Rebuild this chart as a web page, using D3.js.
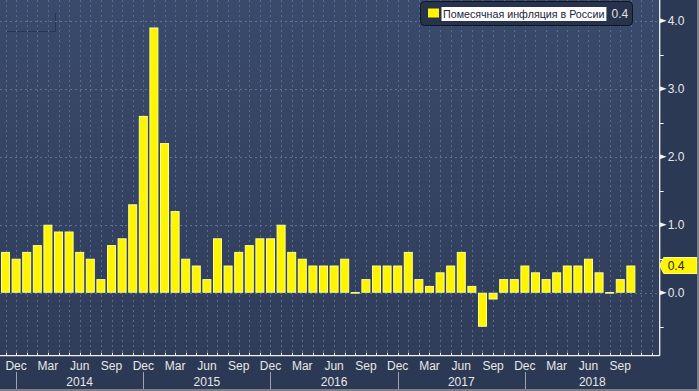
<!DOCTYPE html>
<html>
<head>
<meta charset="utf-8">
<script src="https://cdn.jsdelivr.net/npm/d3@7"></script>
<style>
  html, body { margin: 0; padding: 0; background: #2b3954; }
  svg { display: block; font-family: "Liberation Sans", Arial, sans-serif; }
</style>
</head>
<body>
<svg id="chart"></svg>
<script>
// Monthly CPI, Russia, % m/m — Nov 2013 .. Oct 2018
const startMonth = new Date(Date.UTC(2013, 10, 1));
const values = [
  0.6, 0.5,                                                  // 2013 Nov-Dec
  0.6, 0.7, 1.0, 0.9, 0.9, 0.6, 0.5, 0.2, 0.7, 0.8, 1.3, 2.6, // 2014
  3.9, 2.2, 1.2, 0.5, 0.4, 0.2, 0.8, 0.4, 0.6, 0.7, 0.8, 0.8, // 2015
  1.0, 0.6, 0.5, 0.4, 0.4, 0.4, 0.5, 0.01, 0.2, 0.4, 0.4, 0.4, // 2016
  0.6, 0.2, 0.1, 0.3, 0.4, 0.6, 0.1, -0.5, -0.1, 0.2, 0.2, 0.4, // 2017
  0.3, 0.2, 0.3, 0.4, 0.4, 0.5, 0.3, 0.01, 0.2, 0.4          // 2018 Jan-Oct
];
const months = values.map((v, i) => d3.utcMonth.offset(startMonth, i));
const monthTickLabels = ["Dec", "Mar", "Jun", "Sep"];
const years = [2014, 2015, 2016, 2017, 2018];
const yMajor = [0, 1, 2, 3, 4];
const yMinor = [-0.5, 0.5, 1.5, 2.5, 3.5];
const seriesName = "Помесячная инфляция в России";
const lastValue = values[values.length - 1];

const W = 699, H = 391;
const plotRight = 659.7, plotBottom = 355.7;

const svg = d3.select("#chart").attr("width", W).attr("height", H);

// background gradient for plot area
const defs = svg.append("defs");
const grad = defs.append("linearGradient").attr("id", "bg").attr("x1", 0).attr("y1", 0).attr("x2", 0).attr("y2", 1);
grad.append("stop").attr("offset", "0%").attr("stop-color", "#3a4a6a");
grad.append("stop").attr("offset", "100%").attr("stop-color", "#2f3d5a");

svg.append("rect").attr("width", W).attr("height", H).attr("fill", "#2b3954");
svg.append("rect").attr("width", plotRight).attr("height", plotBottom).attr("fill", "url(#bg)");

// scales: month index -> px, value -> px
const x = d3.scaleLinear().domain([-0.52, 61.72]).range([0, plotRight]);
const y = d3.scaleLinear().domain([-0.926, 4.304]).range([plotBottom, 0]);
const barW = 9;

// faint watermark box top-left
svg.append("path")
  .attr("d", "M6,31.5H55.5V13")
  .attr("fill", "none").attr("stroke", "#1f2a40").attr("stroke-opacity", 0.6);

// vertical grid (each month)
svg.append("g").selectAll("line")
  .data(d3.range(0, 62))
  .join("line")
  .attr("x1", d => Math.round(x(d)) + 0.5).attr("x2", d => Math.round(x(d)) + 0.5)
  .attr("y1", 0).attr("y2", plotBottom)
  .attr("stroke", "#576c90").attr("stroke-dasharray", "2,3").attr("stroke-width", 1);

// horizontal grid
svg.append("g").selectAll("line")
  .data(yMajor)
  .join("line")
  .attr("x1", 0).attr("x2", plotRight)
  .attr("y1", d => Math.round(y(d)) + 0.5).attr("y2", d => Math.round(y(d)) + 0.5)
  .attr("stroke", "#5c7196").attr("stroke-dasharray", "2,3");

// bars
svg.append("g").selectAll("rect")
  .data(values)
  .join("rect")
  .attr("x", (d, i) => x(i) - barW / 2 + 0.5)
  .attr("width", barW - 1)
  .attr("y", d => Math.min(y(d), y(0)) + 0.5)
  .attr("height", d => Math.max(Math.abs(y(d) - y(0)) - 1, 0.6))
  .attr("fill", "#fff500")
  .attr("stroke", "#ffff8c")
  .attr("stroke-width", 1);

// right axis
const axisColor = "#f2f2f2";
svg.append("line")
  .attr("x1", plotRight).attr("x2", plotRight).attr("y1", 0).attr("y2", plotBottom)
  .attr("stroke", axisColor).attr("stroke-width", 1.3);

const yTicks = svg.append("g").selectAll("g").data(yMajor).join("g")
  .attr("transform", d => `translate(${plotRight},${y(d)})`);
yTicks.append("path").attr("d", "M0,-2.5L7,0L0,2.5Z").attr("fill", axisColor);
yTicks.append("text")
  .attr("x", 8).attr("dy", "0.36em")
  .attr("fill", "#e8e8e8").attr("font-size", 12)
  .text(d => d3.format(".1f")(d));

svg.append("g").selectAll("line").data(yMinor).join("line")
  .attr("x1", plotRight).attr("x2", plotRight + 4)
  .attr("y1", d => Math.round(y(d)) + 0.5).attr("y2", d => Math.round(y(d)) + 0.5)
  .attr("stroke", axisColor);

// last value tag
const tagY = y(lastValue);
svg.append("path")
  .attr("d", `M${plotRight},${tagY}L${plotRight + 4},${tagY - 8}H697V${tagY + 8}H${plotRight + 4}Z`)
  .attr("fill", "#fff500").attr("stroke", "#ffff8c");
svg.append("text")
  .attr("x", plotRight + 8).attr("y", tagY).attr("dy", "0.36em")
  .attr("font-size", 12).attr("fill", "#222")
  .text(d3.format(".1f")(lastValue));

// bottom axis
svg.append("line")
  .attr("x1", 0).attr("x2", plotRight).attr("y1", plotBottom).attr("y2", plotBottom)
  .attr("stroke", axisColor).attr("stroke-width", 1.3);
svg.append("g").selectAll("line").data(d3.range(0, 62)).join("line")
  .attr("x1", d => Math.round(x(d)) + 0.5).attr("x2", d => Math.round(x(d)) + 0.5)
  .attr("y1", plotBottom - 3).attr("y2", plotBottom)
  .attr("stroke", axisColor);

const fmtMonth = d3.utcFormat("%b");
const labelled = months.map((m, i) => ({ m, i })).filter(d => monthTickLabels.includes(fmtMonth(d.m)));
svg.append("g").selectAll("text").data(labelled).join("text")
  .attr("x", d => x(d.i)).attr("y", 366).attr("dy", "0.36em")
  .attr("text-anchor", "middle").attr("font-size", 12).attr("fill", "#e8e8e8")
  .text(d => fmtMonth(d.m));

// year separators sit on each December
const decIdx = months.map((m, i) => i).filter(i => months[i].getUTCMonth() === 11);
svg.append("g").selectAll("line").data(decIdx).join("line")
  .attr("x1", d => Math.round(x(d)) + 0.5).attr("x2", d => Math.round(x(d)) + 0.5)
  .attr("y1", 372).attr("y2", H)
  .attr("stroke", "#9aa3b3");

svg.append("g").selectAll("text").data(years).join("text")
  .attr("x", (yr, k) => {
    const a = x(decIdx[k]);
    const b = k + 1 < decIdx.length ? x(decIdx[k + 1]) : plotRight;
    return (a + b) / 2;
  })
  .attr("y", 382).attr("dy", "0.36em")
  .attr("text-anchor", "middle").attr("font-size", 12).attr("fill", "#e8e8e8")
  .text(d => d);

// frame edges
svg.append("rect").attr("x", 697).attr("y", 0).attr("width", 2).attr("height", H).attr("fill", "#7b7f88");
svg.append("rect").attr("x", 0).attr("y", 389).attr("width", W).attr("height", 2).attr("fill", "#7b7f88");

// legend
const legend = svg.append("g");
legend.append("rect")
  .attr("x", 420.5).attr("y", 1.5).attr("width", 212).attr("height", 24).attr("rx", 4)
  .attr("fill", "#27334d").attr("stroke", "#10151f");
legend.append("rect")
  .attr("x", 428).attr("y", 8.5).attr("width", 11).attr("height", 9).attr("fill", "#fff500");
const lblBox = legend.append("rect")
  .attr("x", 441.5).attr("y", 7).attr("height", 14).attr("fill", "#ffffff");
const lbl = legend.append("text")
  .attr("x", 443).attr("y", 14).attr("dy", "0.36em")
  .attr("font-size", 10.7).attr("fill", "#1b2540")
  .text(seriesName);
const lw = lbl.node().getComputedTextLength();
lblBox.attr("width", lw + 3.5);
legend.append("text")
  .attr("x", 611.5).attr("y", 14).attr("dy", "0.36em")
  .attr("font-size", 12).attr("fill", "#e0e0e0")
  .text(d3.format(".1f")(lastValue));
</script>
</body>
</html>
